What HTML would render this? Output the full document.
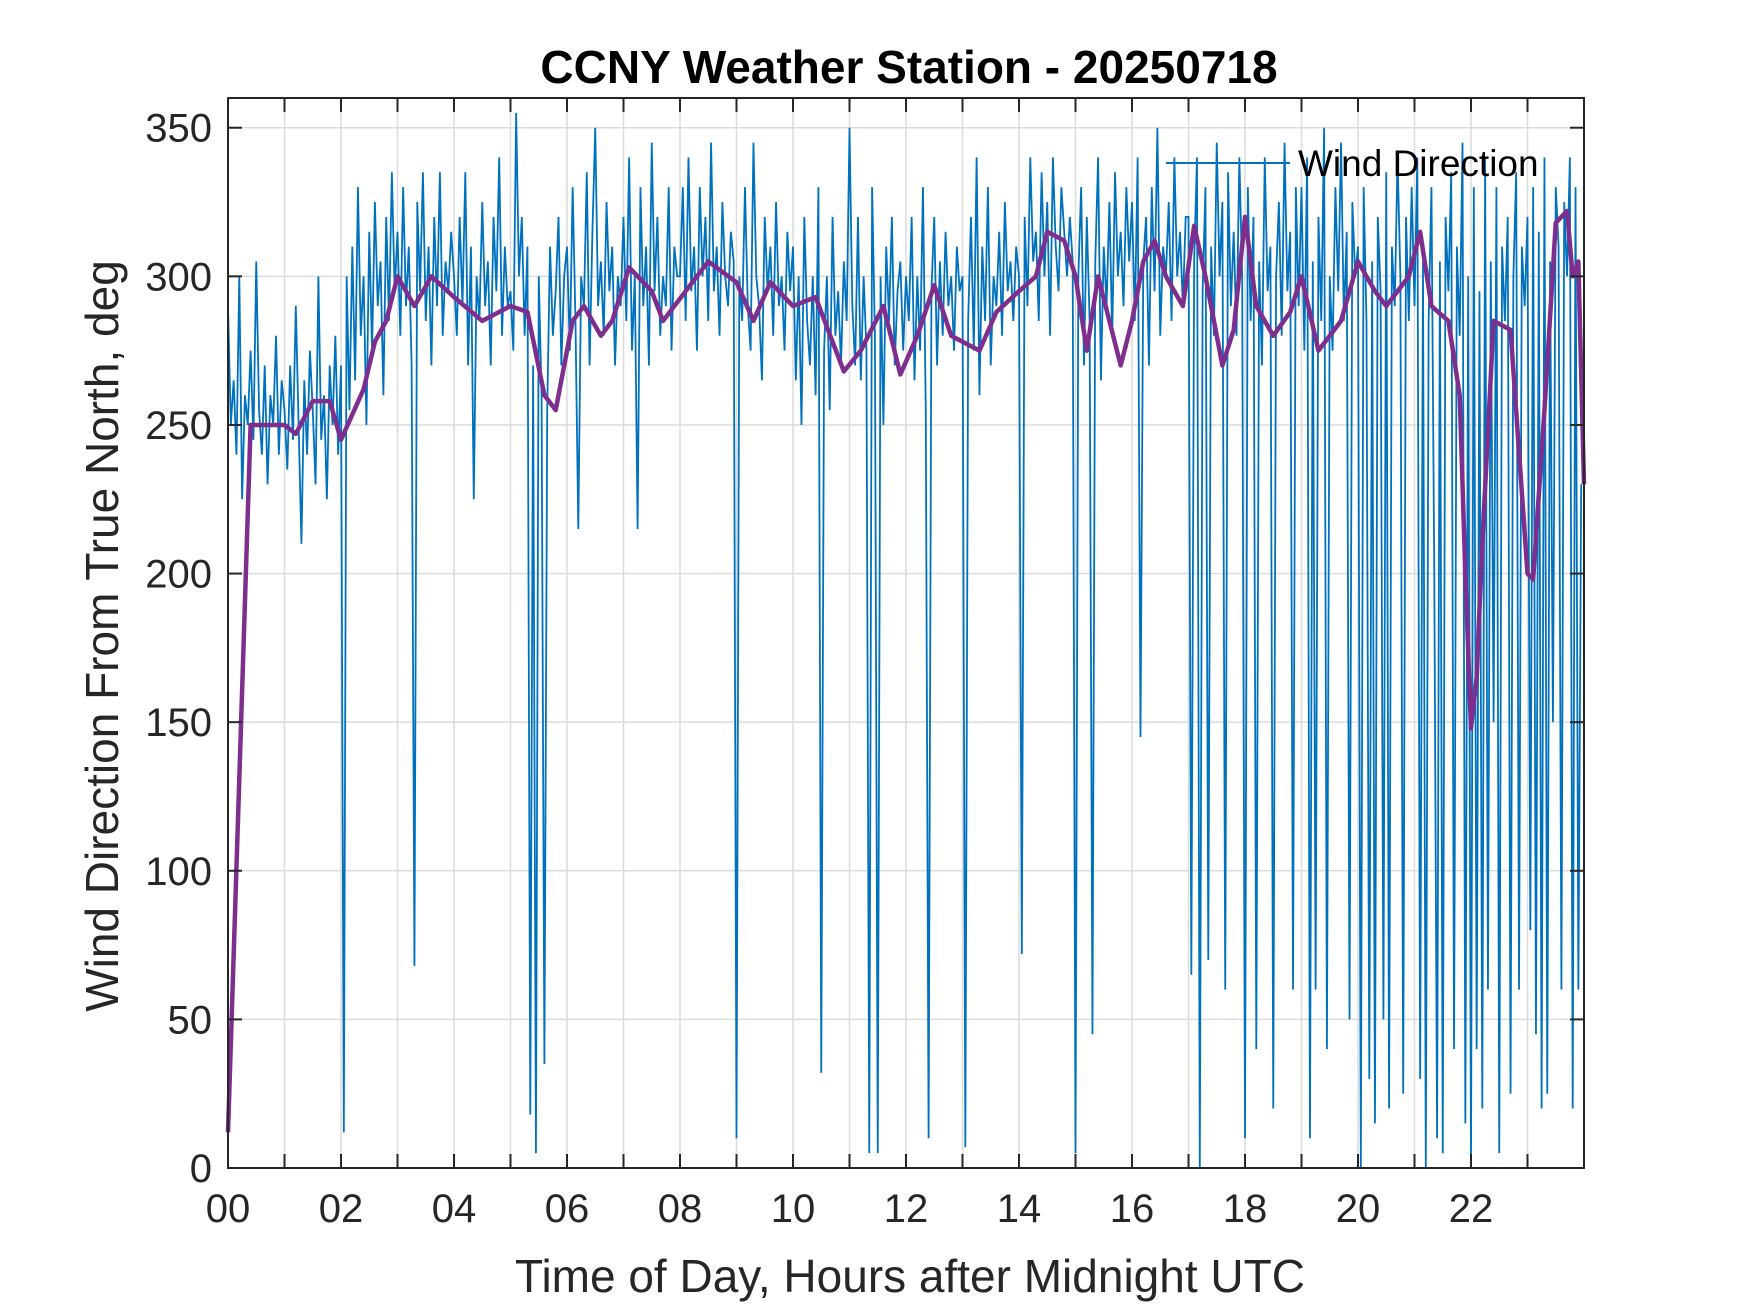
<!DOCTYPE html>
<html><head><meta charset="utf-8"><style>
body{margin:0;background:#fff}
svg{display:block;font-family:"Liberation Sans",Arial,sans-serif}
</style></head><body>
<svg id="chart" width="1750" height="1313" viewBox="0 0 1750 1313">
<rect width="1750" height="1313" fill="#fff"/>
<g id="grid"></g>
<g id="plot"></g>
<g id="axes"></g>
<text x="909" y="83" text-anchor="middle" font-size="46" font-weight="bold" fill="#000">CCNY Weather Station - 20250718</text>
<text x="910" y="1292" text-anchor="middle" font-size="46" fill="#262626">Time of Day, Hours after Midnight UTC</text>
<text transform="translate(118,636) rotate(-90)" text-anchor="middle" font-size="46" fill="#262626">Wind Direction From True North, deg</text>
<g>
<line x1="1166" y1="163" x2="1290" y2="163" stroke="#0072BD" stroke-width="2"/>
<text x="1298" y="176" font-size="37" fill="#000">Wind Direction</text>
</g>
</svg>
<script>
const dirValues = [
290,250,265,240,300,225,260,250,275,245,305,255,240,270,230,260,250,280,240,265,
255,235,270,245,290,250,210,265,240,275,255,230,300,245,260,225,270,250,280,240,
270,12,300,255,310,265,330,280,300,250,315,275,325,290,305,260,320,285,335,295,
315,280,330,290,310,270,68,325,295,335,285,310,270,320,290,335,280,305,295,315,
300,280,320,290,335,270,310,225,300,285,325,290,305,270,320,295,340,280,310,290,
295,275,355,300,320,280,310,18,270,5,300,260,35,255,310,280,295,320,270,300,
310,275,330,285,215,300,290,335,270,315,350,290,305,280,325,295,310,270,300,290,
320,285,340,275,300,215,330,290,310,270,345,295,320,280,300,290,330,275,310,300,
300,330,285,340,295,310,275,330,300,320,285,345,295,310,280,325,300,290,315,305,
10,300,285,330,290,275,345,300,290,265,320,295,310,280,325,290,300,275,315,295,
310,265,300,250,320,285,270,300,260,330,32,275,300,255,320,280,295,270,305,285,
350,290,270,320,265,300,275,5,330,280,5,300,250,310,285,320,270,295,305,275,
300,285,320,265,300,275,330,255,10,295,320,270,305,280,315,290,300,275,310,295,
300,7,285,320,275,340,260,310,285,330,270,300,290,315,280,325,295,305,285,310,
300,72,320,290,340,305,315,285,335,300,325,280,340,310,295,330,315,300,320,305,
5,300,330,270,320,285,45,305,340,265,310,290,325,280,335,300,315,290,330,305,
325,285,340,145,305,320,270,330,295,350,280,310,300,325,285,340,300,315,290,320,
320,65,305,340,0,295,330,70,310,280,345,300,325,60,335,290,315,280,340,300,
10,330,285,320,40,305,270,340,295,310,20,300,325,280,345,295,315,60,330,290,
330,275,340,10,305,60,320,285,350,40,300,275,330,295,345,285,315,50,325,300,
310,0,330,285,30,305,15,320,295,50,335,20,310,290,340,300,25,320,285,330,
290,340,30,305,0,285,330,200,10,305,5,320,295,335,40,310,280,345,15,300,
0,330,40,295,20,340,60,305,150,330,5,310,285,320,25,300,335,60,310,290,
320,80,330,45,315,20,340,25,305,150,330,310,60,325,300,340,20,330,60,230];
const avgHours = [0,0.4,1,1.2,1.5,1.8,2.0,2.4,2.6,2.8,3.0,3.3,3.6,4,4.5,5,5.3,5.6,5.8,6.1,6.3,6.6,6.8,7.1,7.5,7.7,8.1,8.5,9,9.3,9.6,10,10.4,10.9,11.2,11.6,11.9,12.2,12.5,12.8,13.3,13.6,14,14.3,14.5,14.8,15.0,15.2,15.4,15.8,16.0,16.2,16.4,16.6,16.9,17.1,17.3,17.6,17.8,18.0,18.2,18.5,18.8,19.0,19.3,19.7,20.0,20.3,20.5,20.9,21.1,21.3,21.6,21.8,21.9,22.0,22.1,22.2,22.4,22.7,23.0,23.1,23.3,23.5,23.7,23.8,23.9,24.0];
const avgValues = [12,250,250,247,258,258,245,262,278,285,300,290,300,293,285,290,288,260,255,285,290,280,285,303,295,285,295,305,298,285,298,290,293,268,275,290,267,280,297,280,275,288,295,300,315,312,300,275,300,270,285,305,312,300,290,317,300,270,282,320,290,280,288,300,275,285,305,295,290,300,315,290,285,260,200,148,165,210,285,282,200,198,255,318,322,300,305,230];
const xTicks = [0,2,4,6,8,10,12,14,16,18,20,22];
const xTickLabels = ["00","02","04","06","08","10","12","14","16","18","20","22"];
const yTicks = [0,50,100,150,200,250,300,350];

const L=228,R=1584,T=98,B=1168,XMAX=24,YMAX=360;
const xs=h=>L+(R-L)*h/XMAX, ys=v=>B-(B-T)*v/YMAX;
const NS='http://www.w3.org/2000/svg';
function mk(tag,parent,attrs){const e=document.createElementNS(NS,tag);for(const k in attrs)e.setAttribute(k,attrs[k]);parent.appendChild(e);return e;}
const grid=document.getElementById('grid'),plot=document.getElementById('plot'),axes=document.getElementById('axes');
for(let h=1;h<XMAX;h++){const l=mk('line',grid,{x1:xs(h),x2:xs(h),y1:T,y2:B,stroke:'#dcdcdc','stroke-width':1.5});

}
yTicks.forEach(v=>{const l=mk('line',grid,{x1:L,x2:R,y1:ys(v),y2:ys(v),stroke:'#dcdcdc','stroke-width':1.5});

});
const N=dirValues.length;
const bp=dirValues.map((v,i)=>xs(i*XMAX/N)+','+ys(v)).join(' ');
const bl=mk('polyline',plot,{points:bp,fill:'none',stroke:'#0072BD','stroke-width':1.8});


const pp=avgHours.map((h,i)=>xs(h)+','+ys(avgValues[i])).join(' ');
const pl=mk('polyline',plot,{points:pp,fill:'none',stroke:'#7E2F8E','stroke-width':4.5,'stroke-linejoin':'round'});


const box=mk('rect',axes,{x:L,y:T,width:R-L,height:B-T,fill:'none',stroke:'#262626','stroke-width':2});


for(let h=1;h<XMAX;h++){mk('line',axes,{x1:xs(h),x2:xs(h),y1:B,y2:B-14,stroke:'#262626','stroke-width':2});mk('line',axes,{x1:xs(h),x2:xs(h),y1:T,y2:T+14,stroke:'#262626','stroke-width':2});}
xTicks.forEach((h,i)=>{const t=mk('text',axes,{x:xs(h),y:B+54,'text-anchor':'middle','font-size':40,fill:'#262626'});t.textContent=xTickLabels[i];

});
yTicks.forEach(v=>{mk('line',axes,{x1:L,x2:L+14,y1:ys(v),y2:ys(v),stroke:'#262626','stroke-width':2});mk('line',axes,{x1:R,x2:R-14,y1:ys(v),y2:ys(v),stroke:'#262626','stroke-width':2});
const t=mk('text',axes,{x:L-16,y:ys(v)+14,'text-anchor':'end','font-size':40,fill:'#262626'});t.textContent=v;

});
</script>
</body></html>
